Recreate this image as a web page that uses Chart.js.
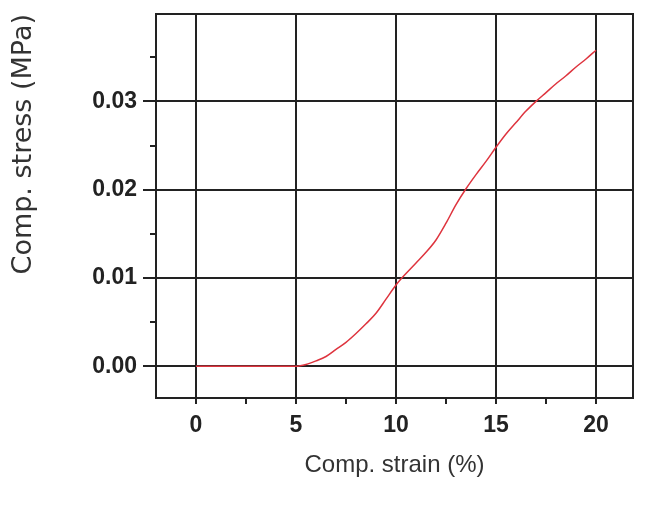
<!DOCTYPE html>
<html>
<head>
<meta charset="utf-8">
<script src="https://cdn.jsdelivr.net/npm/chart.js@4.4.0/dist/chart.umd.min.js"></script>
<style>
  body { margin: 0; background: #fff; }
  #wrap { width: 670px; height: 510px; }
</style>
</head>
<body>
<div id="wrap"><canvas id="chart" width="670" height="510"></canvas></div>
<script>
const strain = [0, 1, 2, 3, 4, 5, 5.5, 6, 6.5, 7, 7.5, 8, 8.5, 9, 9.5, 10, 10.5, 11, 11.5, 12,
  12.5, 13, 13.5, 14, 14.5, 15, 15.5, 16, 16.5, 17, 17.5, 18, 18.5, 19, 19.5, 20];
const stress = [0, 0, 0, 0, 0, 0, 0.0002, 0.0006, 0.0011, 0.0019, 0.0027, 0.0037, 0.0048, 0.006,
  0.0076, 0.0092, 0.0105, 0.0117, 0.0129, 0.0143, 0.0162, 0.0183, 0.0201, 0.0217, 0.0232,
  0.0248, 0.0263, 0.0276, 0.0289, 0.03, 0.031, 0.032, 0.0329, 0.0339, 0.0348, 0.0358];

const xTicks = [0, 5, 10, 15, 20];
const xMinor = [2.5, 7.5, 12.5, 17.5];
const yTicks = [0, 0.01, 0.02, 0.03];
const yMinor = [0.005, 0.015, 0.025, 0.035];

const ink = "#222";

// frame round the plot and the small minor ticks
const framePlugin = {
  id: "frame",
  afterDraw(chart) {
    const { ctx, chartArea: a, scales } = chart;
    ctx.save();
    ctx.strokeStyle = ink;
    ctx.lineWidth = 2;
    ctx.strokeRect(a.left, a.top, a.right - a.left, a.bottom - a.top);
    ctx.beginPath();
    xMinor.forEach(v => {
      const px = Math.round(scales.x.getPixelForValue(v));
      ctx.moveTo(px, a.bottom);
      ctx.lineTo(px, a.bottom + 6);
    });
    yMinor.forEach(v => {
      const py = Math.round(scales.y.getPixelForValue(v));
      ctx.moveTo(a.left, py);
      ctx.lineTo(a.left - 6, py);
    });
    ctx.stroke();
    ctx.restore();
  }
};

new Chart(document.getElementById("chart"), {
  type: "scatter",
  data: {
    datasets: [{
      data: strain.map((x, i) => ({ x, y: stress[i] })),
      showLine: true,
      borderColor: "rgb(222,52,62)",
      borderWidth: 1.5,
      pointRadius: 0,
      cubicInterpolationMode: "monotone"
    }]
  },
  options: {
    responsive: false,
    animation: false,
    layout: { padding: { top: 14, right: 37, left: 8, bottom: 30 } },
    plugins: { legend: { display: false }, tooltip: { enabled: false } },
    scales: {
      x: {
        type: "linear",
        min: -2,
        max: 21.85,
        afterBuildTicks: s => { s.ticks = xTicks.map(v => ({ value: v })); },
        afterFit: s => { s.height = 82; s.paddingLeft = 0; s.paddingRight = 0; },
        grid: { color: ink, lineWidth: 2, tickLength: 6 },
        border: { display: false },
        ticks: {
          color: ink,
          padding: 8,
          font: { family: "Liberation Sans, Arial", size: 23, weight: "bold" }
        },
        title: {
          display: true,
          text: "Comp. strain (%)",
          color: "#333",
          padding: { top: 6, bottom: 0 },
          font: { family: "Liberation Sans, Arial", size: 24 }
        }
      },
      y: {
        min: -0.0036,
        max: 0.0399,
        afterBuildTicks: s => { s.ticks = yTicks.map(v => ({ value: v })); },
        afterFit: s => { s.width = 148; s.paddingTop = 0; s.paddingBottom = 0; },
        grid: { color: ink, lineWidth: 2, tickLength: 13 },
        border: { display: false },
        ticks: {
          color: ink,
          padding: 6,
          callback: v => v.toFixed(2),
          font: { family: "Liberation Sans, Arial", size: 23, weight: "bold" }
        },
        title: {
          display: true,
          text: "Comp. stress (MPa)",
          color: "#333",
          align: "end",
          padding: { top: 0, bottom: 4 },
          font: { family: "DejaVu Sans", size: 27 }
        }
      }
    }
  },
  plugins: [framePlugin]
});
</script>
</body>
</html>
